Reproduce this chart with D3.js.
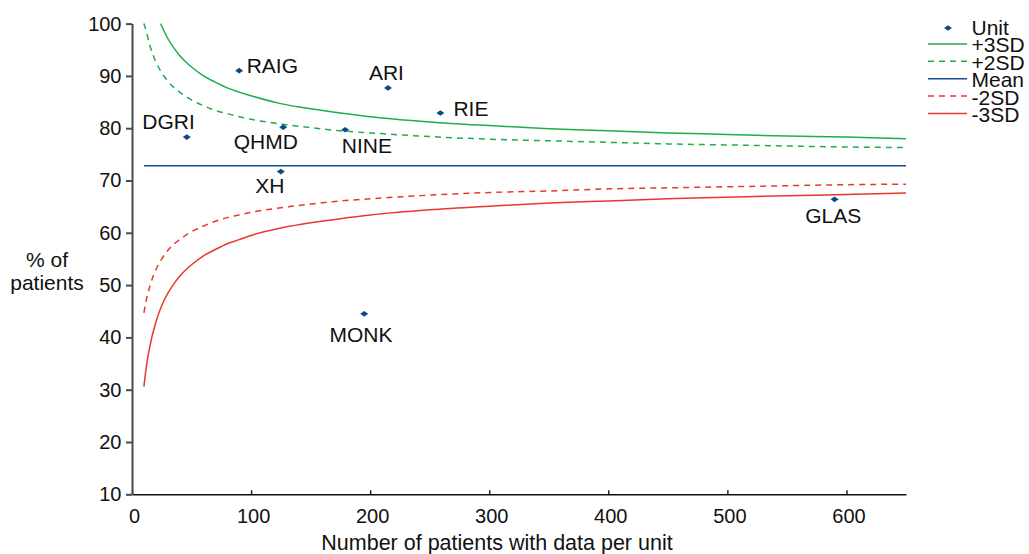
<!DOCTYPE html>
<html>
<head>
<meta charset="utf-8">
<script src="https://cdn.jsdelivr.net/npm/d3@7"></script>
<style>
    html, body { margin: 0; padding: 0; background: #fff; }
    #chart { width: 1029px; height: 554px; }
    .chart-funnel text { font-family: "Liberation Sans", Arial, Helvetica, sans-serif; fill: #111; }
    .chart-funnel__yAxis path, .chart-funnel__yAxis line { stroke: #4a4a4a; stroke-width: 2; }
    .chart-funnel__xAxis path, .chart-funnel__xAxis line { stroke: #111; stroke-width: 1.4; }
    .chart-funnel__limit { fill: none; stroke-width: 1.5; }
</style>
</head>
<body>
<div id="chart"></div>
<script>
// units
const unitNames = ['RAIG', 'ARI', 'DGRI', 'QHMD', 'NINE', 'XH', 'RIE', 'MONK', 'GLAS'];
const unitPatients = [90, 215, 46, 127, 179, 125, 259, 195, 590];
const unitPercent = [91.0, 87.7, 78.3, 80.2, 79.7, 71.7, 82.9, 44.5, 66.4];

// control limits
const limitN = [10, 12, 15, 20, 25, 30, 35, 40, 45, 50, 60, 70, 80, 90, 100, 125, 150, 175, 200, 250, 300, 350, 400, 450, 500, 550, 600, 650];
const plus3N = [24, 25, 30, 35, 40, 45, 50, 60, 70, 80, 90, 100, 125, 150, 175, 200, 250, 300, 350, 400, 450, 500, 550, 600, 650];
const plus3SD = [100.0, 99.5, 97.2, 95.4, 93.9, 92.7, 91.7, 90.0, 88.8, 87.7, 86.9, 86.2, 84.7, 83.7, 82.9, 82.2, 81.2, 80.5, 79.9, 79.5, 79.1, 78.8, 78.5, 78.3, 78.0];
const plus2SD = [100.0, 98.5, 95.8, 92.7, 90.6, 89.0, 87.8, 86.9, 86.1, 85.4, 84.3, 83.4, 82.8, 82.2, 81.7, 80.8, 80.1, 79.5, 79.1, 78.4, 77.9, 77.6, 77.3, 77.0, 76.8, 76.6, 76.4, 76.3];
const minus2SD = [44.7, 47.1, 49.8, 52.9, 55.0, 56.6, 57.8, 58.7, 59.5, 60.2, 61.3, 62.2, 62.9, 63.4, 63.9, 64.8, 65.5, 66.1, 66.5, 67.2, 67.7, 68.0, 68.4, 68.6, 68.8, 69.0, 69.2, 69.3];
const minus3SD = [30.6, 34.3, 38.3, 42.9, 46.1, 48.4, 50.2, 51.7, 52.9, 53.9, 55.6, 56.8, 57.9, 58.7, 59.5, 60.9, 61.9, 62.7, 63.4, 64.4, 65.1, 65.7, 66.1, 66.5, 66.8, 67.1, 67.3, 67.6];
const meanN = [10, 650];
const meanPercent = [72.8, 72.8];

const xTicks = [0, 100, 200, 300, 400, 500, 600];
const yTicks = [10, 20, 30, 40, 50, 60, 70, 80, 90, 100];
const legendLabels = ['Unit', '+3SD', '+2SD', 'Mean', '-2SD', '-3SD'];

class FunnelPlot {

    constructor(div){
        this.settings = {
            mainClass: 'chart-funnel',
            container: div,
            dimension: {
                width: 1029,
                height: 554,
                margins: { left: 132, right: 123, top: 23.6, bottom: 59.7 },
            },
            colors: { green: '#1fae49', red: '#e8382c', blue: '#174d8c', dot: '#0b4a8a' },
            fontSize: 20,
            dotSize: 22,
            // label placement relative to its dot: [anchor, dx, dy]
            labelPos: {
                RAIG: ['start', 7.5, 2],
                ARI: ['middle', -1.6, -8.4],
                DGRI: ['end', 8, -8],
                QHMD: ['middle', -17.5, 21.7],
                NINE: ['middle', 21.7, 23.3],
                XH: ['middle', -11, 21],
                RIE: ['start', 13, 2.7],
                MONK: ['middle', -3.3, 27.7],
                GLAS: ['middle', -1.4, 24],
            },
        };
        this.elements = {};
    }

    renderChart(){
        this.createBound();
        this.createScales();
        this.createAxes();
        this.drawLimits();
        this.drawUnits();
        this.drawTitles();
        this.drawLegend();
    }

    createBound(){
        const { mainClass, container, dimension } = this.settings;
        const { width, height, margins } = dimension;
        dimension.boundWidth = width - margins.left - margins.right;
        dimension.boundHeight = height - margins.top - margins.bottom;

        const svg = d3.select(container).append('svg')
            .classed(mainClass, true)
            .attr('width', width).attr('height', height);

        const bound = svg.append('g')
            .attr('transform', `translate(${margins.left},${margins.top})`);

        this.elements.svg = svg;
        this.elements.bound = bound;
    }

    createScales(){
        const { boundWidth, boundHeight } = this.settings.dimension;
        this.elements.xScale = d3.scaleLinear().domain([0, 650]).range([0, boundWidth]);
        this.elements.yScale = d3.scaleLinear().domain([10, 100]).range([boundHeight, 0]);
    }

    //AXIS ------------------------
    createAxes(){
        const { bound, xScale, yScale } = this.elements;
        const { mainClass, fontSize, dimension: { boundHeight } } = this.settings;

        const xAxis = bound.append('g')
            .classed(`${mainClass}__xAxis`, true)
            .attr('transform', `translate(0,${boundHeight})`)
            .call(d3.axisBottom(xScale).tickValues(xTicks).tickSize(-4).tickSizeOuter(0).tickPadding(15));

        const yAxis = bound.append('g')
            .classed(`${mainClass}__yAxis`, true)
            .call(d3.axisLeft(yScale).tickValues(yTicks).tickSize(6).tickSizeOuter(0).tickPadding(4.5));

        [xAxis, yAxis].forEach((axis) => axis.selectAll('text')
            .style('font-size', `${fontSize}px`)
            .attr('fill', '#111'));
        xAxis.selectAll('text').attr('dx', 2);
    }

    //DATA ELEMENTS
    drawLimits(){
        const { bound, xScale, yScale } = this.elements;
        const { mainClass, colors } = this.settings;

        const series = [
            { n: plus3N, v: plus3SD, color: colors.green, dash: null },
            { n: limitN, v: plus2SD, color: colors.green, dash: '6,5' },
            { n: meanN, v: meanPercent, color: colors.blue, dash: null },
            { n: limitN, v: minus2SD, color: colors.red, dash: '6,5' },
            { n: limitN, v: minus3SD, color: colors.red, dash: null },
        ];

        const line = d3.line()
            .x((d) => xScale(d[0]))
            .y((d) => yScale(d[1]))
            .curve(d3.curveMonotoneX);

        bound.selectAll(`.${mainClass}__limit`).data(series)
            .join('path')
            .classed(`${mainClass}__limit`, true)
            .attr('d', (s) => line(s.n.map((n, i) => [n, s.v[i]])))
            .attr('stroke', (s) => s.color)
            .attr('stroke-dasharray', (s) => s.dash);
    }

    drawUnits(){
        const { bound, xScale, yScale } = this.elements;
        const { mainClass, colors, labelPos, fontSize, dotSize } = this.settings;
        const units = unitNames.map((name, i) => ({ name, n: unitPatients[i], pct: unitPercent[i] }));
        const diamond = d3.symbol(d3.symbolSquare, dotSize)();

        bound.selectAll(`.${mainClass}__unit`).data(units)
            .join('path')
            .classed(`${mainClass}__unit`, true)
            .attr('d', diamond)
            .attr('fill', colors.dot)
            .attr('transform', (d) => `translate(${xScale(d.n)},${yScale(d.pct)}) scale(1.2,0.85) rotate(45)`);

        bound.selectAll(`.${mainClass}__unitLabel`).data(units)
            .join('text')
            .classed(`${mainClass}__unitLabel`, true)
            .attr('x', (d) => xScale(d.n) + labelPos[d.name][1])
            .attr('y', (d) => yScale(d.pct) + labelPos[d.name][2])
            .attr('text-anchor', (d) => labelPos[d.name][0])
            .style('font-size', `${fontSize + 1}px`)
            .text((d) => d.name);
    }

    drawTitles(){
        const { svg } = this.elements;
        const { fontSize } = this.settings;

        svg.append('text')
            .attr('x', 497).attr('y', 550)
            .attr('text-anchor', 'middle')
            .style('font-size', `${fontSize + 1.5}px`)
            .text('Number of patients with data per unit');

        svg.append('text')
            .attr('text-anchor', 'middle')
            .style('font-size', `${fontSize + 1}px`)
            .selectAll('tspan').data(['% of', 'patients'])
            .join('tspan')
            .attr('x', 47)
            .attr('y', (d, i) => 267 + i * 23)
            .text((d) => d);
    }

    drawLegend(){
        const { svg } = this.elements;
        const { colors, fontSize, dotSize } = this.settings;
        const styles = [
            { color: colors.dot, dash: null, dot: true },
            { color: colors.green, dash: null },
            { color: colors.green, dash: '6,5' },
            { color: colors.blue, dash: null },
            { color: colors.red, dash: '6,5' },
            { color: colors.red, dash: null },
        ];
        const items = legendLabels.map((label, i) => ({ label, ...styles[i] }));

        const legend = svg.append('g').attr('transform', 'translate(928,35)');
        const rows = legend.selectAll('g').data(items)
            .join('g')
            .attr('transform', (d, i) => `translate(0,${i * 17.4})`);

        rows.filter((d) => d.dot).append('path')
            .attr('d', d3.symbol(d3.symbolSquare, dotSize)())
            .attr('fill', (d) => d.color)
            .attr('transform', 'translate(20,-7) scale(1.2,0.85) rotate(45)');

        rows.filter((d) => !d.dot).append('line')
            .attr('x1', 0).attr('x2', 39)
            .attr('y1', -8.5).attr('y2', -8.5)
            .attr('stroke', (d) => d.color)
            .attr('stroke-width', 1.5)
            .attr('stroke-dasharray', (d) => d.dash);

        rows.append('text')
            .attr('x', 43.5)
            .style('font-size', `${fontSize + 1}px`)
            .text((d) => d.label);
    }
}

new FunnelPlot(document.getElementById('chart')).renderChart();
</script>
</body>
</html>
